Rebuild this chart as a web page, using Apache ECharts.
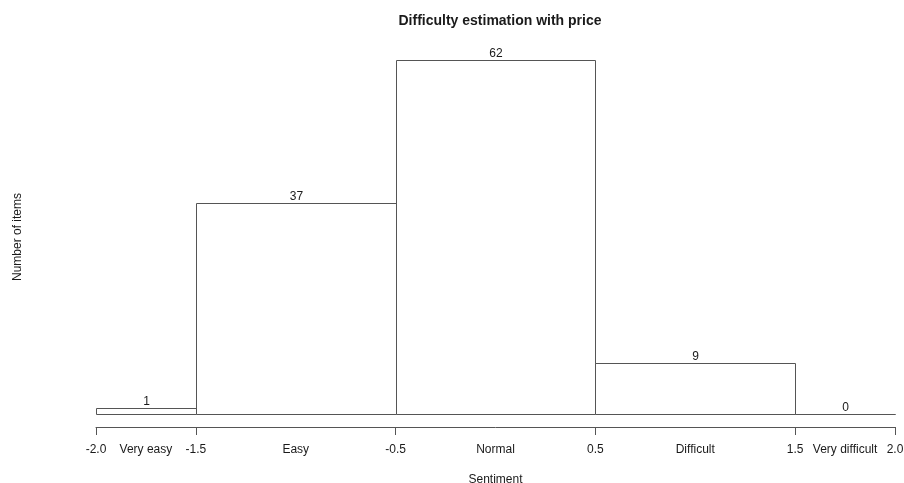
<!DOCTYPE html>
<html>
<head>
<meta charset="utf-8">
<title>Difficulty estimation with price</title>
<script src="https://cdn.jsdelivr.net/npm/echarts@6/dist/echarts.min.js"></script>
<style>
  html, body { margin: 0; padding: 0; background: #fff; }
  #chart { width: 904px; height: 483px; }
</style>
</head>
<body>
<div id="chart"></div>
<script>
// Histogram bins (sentiment score ranges) and the number of items in each
const binEdges = [-2, -1.5, -0.5, 0.5, 1.5, 2];
const counts = [1, 37, 62, 9, 0];
const binNames = ['Very easy', 'Easy', 'Normal', 'Difficult', 'Very difficult'];
const tickValues = [-2, -1.5, -0.5, 0.5, 1.5, 2];

const FONT = "'Liberation Sans', Helvetica, Arial, sans-serif";
const TEXT = '#1a1a1a';
const LINE = '#555555';

// one row per bar: [start, end, count, name]
const barData = counts.map((c, i) => [binEdges[i], binEdges[i + 1], c, binNames[i]]);
const midValues = counts.map((c, i) => (binEdges[i] + binEdges[i + 1]) / 2);

const crisp = v => Math.round(v) + 0.5;

const chart = echarts.init(document.getElementById('chart'), null, { renderer: 'canvas' });

chart.setOption({
  backgroundColor: '#ffffff',
  animation: false,
  title: {
    text: 'Difficulty estimation with price',
    left: 495, textAlign: 'center', top: 9,
    textStyle: { fontFamily: FONT, fontSize: 14, fontWeight: 'bold', color: TEXT }
  },
  grid: { left: 96, right: 9, top: 60, bottom: 69, containLabel: false, outerBoundsMode: 'none' },
  xAxis: [
    {
      type: 'value', min: -2, max: 2, offset: 13, position: 'bottom',
      name: 'Sentiment', nameLocation: 'middle', nameGap: 47,
      nameTextStyle: { fontFamily: FONT, fontSize: 12, color: TEXT },
      splitLine: { show: false },
      axisLine: { show: true, onZero: false, lineStyle: { color: LINE, width: 1 } },
      axisTick: { show: true, length: 8, customValues: tickValues, lineStyle: { color: LINE } },
      axisLabel: {
        customValues: tickValues, margin: 17,
        fontFamily: FONT, fontSize: 12, color: TEXT,
        formatter: v => Number(v).toFixed(1)
      }
    },
    {
      type: 'value', min: -2, max: 2, offset: 13, position: 'bottom',
      splitLine: { show: false },
      axisLine: { show: false, onZero: false },
      axisTick: { show: false },
      axisLabel: {
        customValues: midValues, margin: 17,
        fontFamily: FONT, fontSize: 12, color: TEXT,
        formatter: v => {
          const i = midValues.findIndex(m => Math.abs(m - v) < 1e-9);
          return i >= 0 ? binNames[i] : '';
        }
      }
    }
  ],
  yAxis: {
    type: 'value', min: 0, max: 62,
    name: 'Number of items', nameLocation: 'middle', nameGap: 72,
    nameTextStyle: { fontFamily: FONT, fontSize: 12, color: TEXT },
    axisLine: { show: false }, axisTick: { show: false },
    axisLabel: { show: false }, splitLine: { show: false }
  },
  series: [{
    type: 'custom',
    xAxisIndex: 0,
    data: barData,
    encode: { x: [0, 1], y: 2 },
    renderItem: (params, api) => {
      const p0 = api.coord([api.value(0), api.value(2)]);
      const p1 = api.coord([api.value(1), 0]);
      const x0 = crisp(p0[0]), x1 = crisp(p1[0]);
      const yTop = crisp(p0[1]), yBot = crisp(p1[1]);
      return {
        type: 'group',
        children: [
          {
            type: 'rect',
            shape: { x: x0, y: yTop, width: x1 - x0, height: yBot - yTop },
            style: { fill: '#ffffff', stroke: LINE, lineWidth: 1 }
          },
          {
            type: 'text',
            style: {
              text: String(api.value(2)),
              x: (x0 + x1) / 2, y: yTop - 7,
              align: 'center', verticalAlign: 'middle',
              font: '12px ' + FONT, fill: TEXT
            }
          }
        ]
      };
    }
  }]
});
</script>
</body>
</html>
